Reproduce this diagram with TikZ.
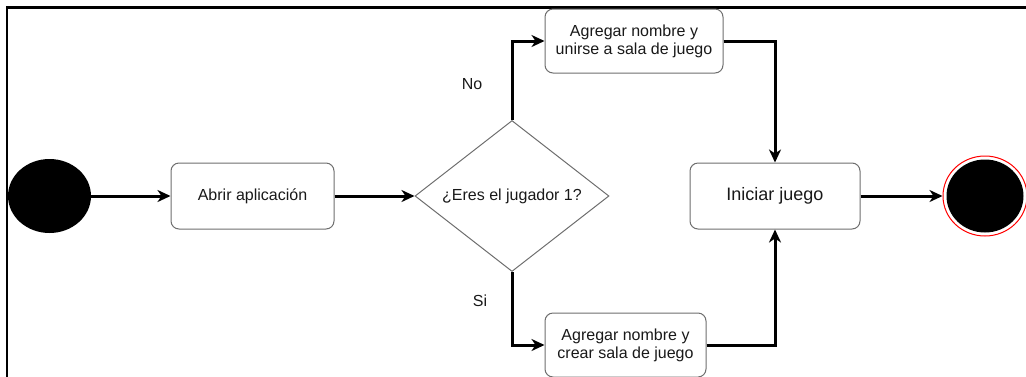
\documentclass[tikz,border=0pt]{standalone}
\usepackage{fontspec}
\setmainfont{Liberation Sans}
\usetikzlibrary{arrows.meta,shapes.geometric}
\definecolor{boxgray}{RGB}{110,110,110}
\definecolor{textc}{RGB}{25,25,25}
\begin{document}
\begin{tikzpicture}[x=1pt,y=-1pt,
  lbl/.style={font=\fontsize{16}{18}\selectfont, text=textc, inner sep=0pt},
  box/.style={lbl, draw=boxgray, line width=1pt, rounded corners=8pt, fill=white, align=center},
  conn/.style={line width=3pt, -{Stealth[length=13pt,width=12pt,inset=4pt]}},
  frame/.style={line width=2.2pt}]
\useasboundingbox (0,0) rectangle (1026,376);
\clip (0,0) rectangle (1026,376);
\draw[frame] (7,420) -- (7,7.5) -- (1100,7.5);
\node[ellipse, fill=black, minimum width=83pt, minimum height=74pt, inner sep=0pt] (start) at (49.5,196) {};
\node[box, minimum width=163pt, minimum height=66pt] (abrir) at (252.5,196) {Abrir aplicación};
\node[lbl, diamond, draw=boxgray, line width=1pt, shape aspect=1.285, minimum width=194pt, minimum height=151pt] (dec) at (512,196) {¿Eres el jugador 1?};
\node[box, minimum width=178pt, minimum height=64pt] (top) at (634,41) {Agregar nombre y\\unirse a sala de juego};
\node[box, minimum width=161pt, minimum height=64pt] (bot) at (625.5,345) {Agregar nombre y\\crear sala de juego};
\node[box, font=\fontsize{18}{20}\selectfont, minimum width=170pt, minimum height=66pt] (ini) at (775,196) {Iniciar juego};
\node[ellipse, draw=red, line width=1pt, fill=white, minimum width=84pt, minimum height=80pt, inner sep=0pt] (end) at (985,196) {};
\node[ellipse, fill=black, minimum width=77pt, minimum height=73pt, inner sep=0pt] (endin) at (985,196) {};
\node[lbl] (no) at (472,84) {No};
\node[lbl] (si) at (480,301) {Si};
\draw[conn] (start) -- (abrir);
\draw[conn] (abrir) -- (dec);
\draw[conn] (dec.north) |- (top.west);
\draw[conn] (dec.south) |- (bot.west);
\draw[conn] (top.east) -| (ini.north);
\draw[conn] (bot.east) -| (ini.south);
\draw[conn] (ini) -- (end);
\end{tikzpicture}
\end{document}
